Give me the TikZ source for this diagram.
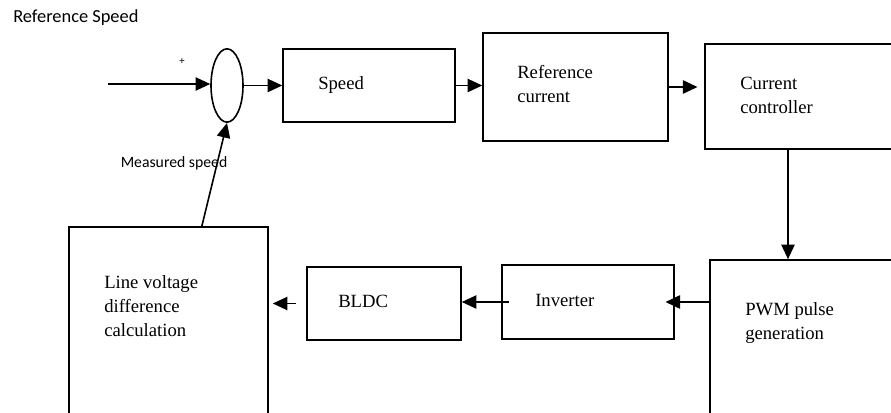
\documentclass[tikz,border=0pt]{standalone}
\usepackage{fontspec}
\setmainfont{Liberation Serif}
\newfontfamily\calib{Carlito}
\usetikzlibrary{arrows.meta,shapes.geometric}

\begin{document}
\begin{tikzpicture}[x=0.75pt,y=0.75pt,yscale=-1,xscale=1,
  blk/.style={draw,line width=1.2pt,inner sep=0pt},
  arr/.style={line width=1.2pt,-{Triangle[length=11pt,width=10pt]}},
  lbl/.style={inner sep=0pt,anchor=base west,align=left,font=\fontsize{14}{18}\selectfont}]
\useasboundingbox (0,0) rectangle (891,413);
\clip (0,0) rectangle (891,413);
%Summing junction
\node[blk,ellipse,minimum width=24pt,minimum height=55pt] (sum) at (227,85.5) {};
%Blocks
\node[blk,minimum width=129pt,minimum height=54.75pt] (speed) at (369,85.5) {};
\node[blk,minimum width=138.75pt,minimum height=81pt] (refcur) at (575.5,87) {};
\node[blk,minimum width=150pt,minimum height=78.75pt] (curctl) at (805,96.5) {};
\node[blk,minimum width=146.25pt,minimum height=127.5pt] (pwm) at (807.5,345) {};
\node[blk,minimum width=129pt,minimum height=55.5pt] (inv) at (588,302) {};
\node[blk,minimum width=115.5pt,minimum height=54.75pt] (bldc) at (384,303.5) {};
\node[blk,minimum width=149.25pt,minimum height=152.25pt] (lvd) at (168.5,328.5) {};
\coordinate (in) at (108,84);
%Connectors
\draw[arr] (in) -- (sum.west |- in);
\draw[arr] (sum.east) -- (speed.west);
\draw[arr] (speed.east) -- (refcur.west |- speed.east);
\draw[arr] (refcur.east) -- ([xshift=-5pt]refcur.east -| curctl.west);
\draw[arr] ([xshift=-12.75pt]curctl.south) -- ([xshift=-12.75pt]curctl.south |- pwm.north);
\draw[arr] (pwm.west |- inv.east) -- ([xshift=-7pt]inv.east);
\draw[arr] ([xshift=6pt]inv.west) -- (bldc.east |- inv.west);
\draw[arr] ([xshift=-7.5pt]bldc.west) -- ([xshift=3pt]bldc.west -| lvd.east);
\draw[arr] ([xshift=25pt]lvd.north) -- (sum.south);
% Text Node
\node[inner sep=0pt,anchor=base west,font=\calib\fontsize{13.8}{16}\selectfont] (refspd) at (13,23) {Reference Speed};
% Text Node
\node[inner sep=0pt,font=\calib\fontsize{8}{9}\selectfont] (plus) at (182,62) {+};
% Text Node
\node[inner sep=0pt,anchor=base west,font=\calib\fontsize{11.8}{14}\selectfont] (meas) at (120.5,168) {Measured speed};
% Text Node
\node[lbl] (tspeed) at (318,90) {Speed};
% Text Node
\node[lbl] (trefcur) at (517,103) {Reference\\current};
% Text Node
\node[lbl] (tcurctl) at (740,114) {Current\\controller};
% Text Node
\node[lbl] (tpwm) at (745,339) {PWM pulse\\generation};
% Text Node
\node[lbl] (tinv) at (535,306) {Inverter};
% Text Node
\node[lbl] (tbldc) at (338,307) {BLDC};
% Text Node
\node[lbl] (tlvd) at (104,336) {Line voltage\\difference\\calculation};
\end{tikzpicture}
\end{document}
